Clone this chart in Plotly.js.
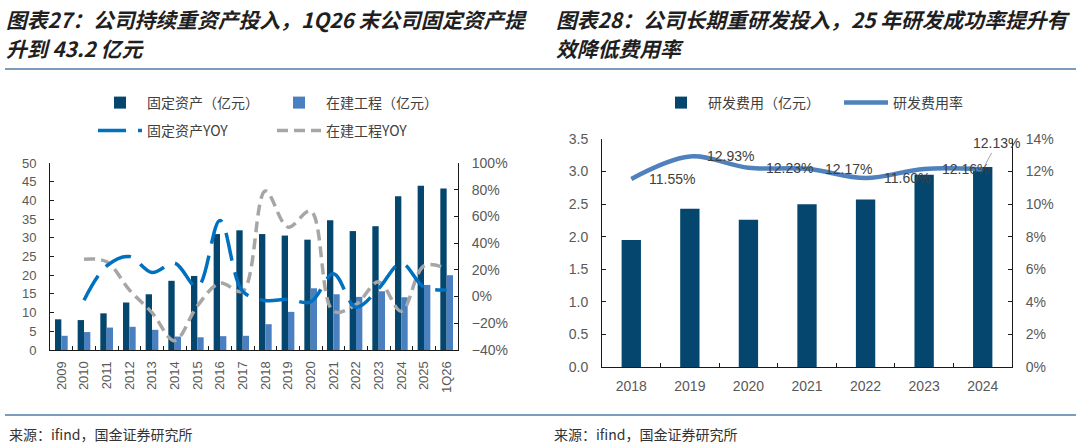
<!DOCTYPE html>
<html>
<head>
<meta charset="utf-8">
<script src="https://cdn.plot.ly/plotly-3.0.1.min.js"></script>
<style>
  body { margin: 0; background: #fff; }
  #chart { width: 1080px; height: 443px; }
</style>
</head>
<body>
<div id="chart"></div>
<script>
// 图表27：固定资产 / 在建工程（亿元）及同比
var years27 = ['2009', '2010', '2011', '2012', '2013', '2014', '2015', '2016', '2017',
  '2018', '2019', '2020', '2021', '2022', '2023', '2024', '2025', '1Q26'];
var fixedAssets = [8.2, 8.0, 9.8, 12.7, 14.9, 18.5, 19.8, 31.0, 32.0,
  31.0, 30.6, 29.5, 34.7, 31.8, 33.1, 41.1, 43.9, 43.2];
var construction = [3.8, 4.8, 6.0, 6.2, 5.4, 3.6, 3.4, 3.7, 3.8,
  6.9, 10.2, 16.5, 14.9, 14.2, 15.7, 14.1, 17.4, 20.0];
var fixedYoy = [null, -2.7, 23, 30, 18, 25, 7, 57, 4,
  -3, -2, -4, 17, -8, 6, 25, 7, 5];
var constructionYoy = [null, 28, 26, 5, -12, -33, -7, 10, 4,
  79, 52, 64, -11, -6, 11, -11, 23, 21];

// 图表28：研发费用（亿元）及研发费用率（%）
var years28 = ['2018', '2019', '2020', '2021', '2022', '2023', '2024'];
var rdExpense = [1.95, 2.43, 2.26, 2.50, 2.57, 2.95, 3.07];
var rdRate = [11.55, 12.93, 12.23, 12.17, 11.60, 12.16, 12.13];

// 标题分两行
var title27 = ['图表27：公司持续重资产投入，1Q26 末公司固定资产提', '升到 43.2 亿元'];
var title28 = ['图表28：公司长期重研发投入，25 年研发成功率提升有', '效降低费用率'];
var sourceText = '来源：ifind，国金证券研究所';

var W = 1080, H = 443;
function px(x) { return x / W; }      // 像素 -> paper
function py(y) { return 1 - y / H; }

var dark = '#04466E', light = '#4A80BF', blue = '#0070C0', grey = '#A6A6A6';
var tickGrey = '#595959', txt = '#404040';
var numFont = 'Liberation Sans, Arial, sans-serif';
var cnFont = 'Noto Sans CJK SC, sans-serif';

var data = [
  {
    x: years27, y: fixedAssets, type: 'bar', name: '固定资产（亿元）',
    xaxis: 'x', yaxis: 'y', offset: -0.28, width: 0.28,
    marker: { color: dark }, legend: 'legend'
  },
  {
    x: years27, y: construction, type: 'bar', name: '在建工程（亿元）',
    xaxis: 'x', yaxis: 'y', offset: 0, width: 0.28,
    marker: { color: light }, legend: 'legend'
  },
  {
    x: years27, y: constructionYoy, type: 'scatter', mode: 'lines', name: '在建工程YOY',
    xaxis: 'x', yaxis: 'y2', legend: 'legend2', legendrank: 2,
    line: { color: grey, width: 3.5, dash: '11px,6px', shape: 'spline', smoothing: 1 }
  },
  {
    x: years27, y: fixedYoy, type: 'scatter', mode: 'lines', name: '固定资产YOY',
    xaxis: 'x', yaxis: 'y2', legend: 'legend2', legendrank: 1,
    line: { color: blue, width: 3.5, dash: '28px,12px', shape: 'spline', smoothing: 1 }
  },
  {
    x: years28, y: rdExpense, type: 'bar', name: '研发费用（亿元）',
    xaxis: 'x2', yaxis: 'y3', width: 0.33,
    marker: { color: dark }, legend: 'legend3'
  },
  {
    x: years28, y: rdRate, type: 'scatter', mode: 'lines', name: '研发费用率',
    xaxis: 'x2', yaxis: 'y4', legend: 'legend3',
    line: { color: '#4F81BD', width: 4.5, shape: 'spline', smoothing: 1 }
  }
];

function axisBase() {
  return {
    showline: true, linecolor: '#1a1a1a', linewidth: 1,
    ticks: 'inside', ticklen: 4, tickcolor: '#1a1a1a',
    showgrid: false, zeroline: false, fixedrange: true,
    tickfont: { family: numFont, size: 13, color: tickGrey },
    ticklabelstandoff: 10
  };
}

var xaxis = Object.assign(axisBase(), {
  domain: [px(50), px(458)], anchor: 'y', type: 'category',
  range: [-0.5, years27.length - 0.5],
  tickangle: -90, tickson: 'boundaries', ticklabelstandoff: 5
});
var yaxis = Object.assign(axisBase(), {
  domain: [py(350), py(163)], anchor: 'x', range: [0, 50], dtick: 5
});
var yaxis2 = Object.assign(axisBase(), {
  overlaying: 'y', anchor: 'x', side: 'right', range: [-40, 100], dtick: 20, ticksuffix: '%'
});
yaxis2.tickfont = { family: numFont, size: 14, color: tickGrey };

var xaxis2 = Object.assign(axisBase(), {
  domain: [px(602), px(1012)], anchor: 'y3', type: 'category',
  range: [-0.5, years28.length - 0.5],
  tickson: 'boundaries', ticklabelstandoff: 6
});
xaxis2.tickfont = { family: numFont, size: 14, color: tickGrey };
var yaxis3 = Object.assign(axisBase(), {
  domain: [py(367), py(139)], anchor: 'x2', range: [0, 3.5], dtick: 0.5, tickformat: '.1f'
});
yaxis3.tickfont = { family: numFont, size: 14, color: tickGrey };
var yaxis4 = Object.assign(axisBase(), {
  overlaying: 'y3', anchor: 'x2', side: 'right', range: [0, 14], dtick: 2, ticksuffix: '%'
});
yaxis4.tickfont = { family: numFont, size: 14, color: tickGrey };

function legendAt(x, y, w) {
  return {
    x: px(x), y: py(y), xanchor: 'left', yanchor: 'top',
    orientation: 'h', entrywidth: w, entrywidthmode: 'pixels',
    itemwidth: 44, bgcolor: 'rgba(0,0,0,0)', borderwidth: 0,
    font: { family: cnFont, size: 14, color: txt },
    itemclick: false, itemdoubleclick: false
  };
}

var annotations = [];
// 研发费用率数据标签（最后一个带引线）
years28.forEach(function (yr, i) {
  var last = i === years28.length - 1;
  annotations.push({
    x: i, y: rdRate[i], xref: 'x2', yref: 'y4',
    text: rdRate[i].toFixed(2) + '%',
    showarrow: last, ax: 14, ay: -26, arrowhead: 0, arrowwidth: 1,
    arrowcolor: grey, standoff: 6,
    xshift: last ? 0 : 41,
    font: { family: numFont, size: 14, color: txt }
  });
});

function paperText(text, x, y, font) {
  return {
    text: text, x: px(x), y: py(y), xref: 'paper', yref: 'paper',
    xanchor: 'left', yanchor: 'middle', showarrow: false, font: font
  };
}
var titleFont = { family: cnFont, size: 20.8, color: '#1f1f1f', weight: 'bold', style: 'italic' };
var srcFont = { family: cnFont, size: 14, color: '#333' };
annotations.push(
  paperText(title27[0], 4, 19, titleFont),
  paperText(title27[1], 4, 48, titleFont),
  paperText(title28[0], 554, 19, titleFont),
  paperText(title28[1], 554, 48, titleFont),
  paperText(sourceText, 7, 434, srcFont),
  paperText(sourceText, 552, 434, srcFont)
);

var sepLine = { color: '#4F7DA6', width: 1.5 };
var shapes = [
  { type: 'line', xref: 'paper', yref: 'paper', x0: px(5), x1: px(1076), y0: py(69), y1: py(69), line: sepLine },
  { type: 'line', xref: 'paper', yref: 'paper', x0: px(5), x1: px(1076), y0: py(415), y1: py(415), line: sepLine }
];

var layout = {
  width: W, height: H,
  margin: { l: 0, r: 0, t: 0, b: 0 },
  paper_bgcolor: '#fff', plot_bgcolor: 'rgba(0,0,0,0)',
  barmode: 'group',
  font: { family: numFont, color: txt },
  showlegend: true,
  legend: legendAt(93, 87, 120),
  legend2: legendAt(93, 115, 120),
  legend3: legendAt(654, 87, 126),
  xaxis: xaxis, yaxis: yaxis, yaxis2: yaxis2,
  xaxis2: xaxis2, yaxis3: yaxis3, yaxis4: yaxis4,
  annotations: annotations,
  shapes: shapes
};

Plotly.newPlot('chart', data, layout, { displayModeBar: false, staticPlot: true });
</script>
</body>
</html>
